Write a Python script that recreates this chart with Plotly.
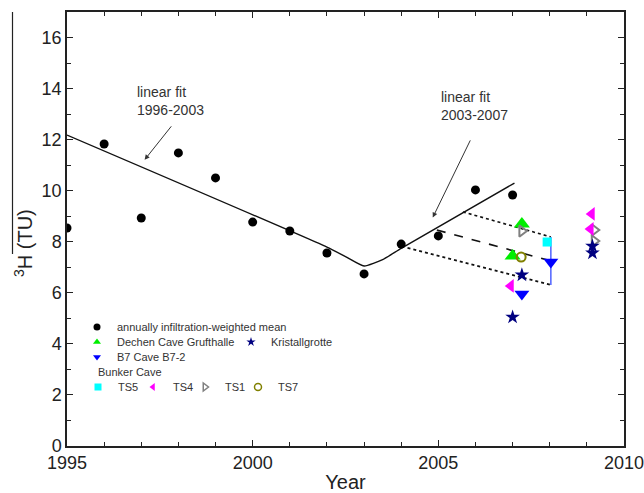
import plotly.graph_objects as go

# ---- data ----
mean_years = [1995, 1996, 1997, 1998, 1999, 2000, 2001, 2002, 2003, 2004, 2005, 2006, 2007]
mean_vals = [8.54, 11.83, 8.93, 11.48, 10.5, 8.77, 8.42, 7.56, 6.74, 7.91, 8.23, 10.03, 9.83]

fit_years = [1995, 2002, 2002.5, 2003, 2003.5, 2004, 2007.05]
fit_vals = [12.18, 7.79, 7.42, 7.05, 7.3, 7.74, 10.3]

upper_x = [2005.66, 2008.03]
upper_y = [9.17, 8.19]
mid_x = [2004.96, 2008.03]
mid_y = [8.46, 7.25]
lower_x = [2004.17, 2008.03]
lower_y = [7.76, 6.31]
range_x = [2008.03, 2008.03]
range_y = [8.19, 6.31]

dechen_x = [2007.25, 2007.0]
dechen_y = [8.7, 7.44]
kristall_x = [2007.25, 2007.0, 2009.15, 2009.15]
kristall_y = [6.7, 5.05, 7.83, 7.56]
b7_x = [2007.25, 2008.03]
b7_y = [5.95, 7.21]
ts5_x = [2007.93]
ts5_y = [7.99]
ts4_x = [2006.95, 2009.13, 2009.1]
ts4_y = [6.27, 9.09, 8.5]
ts1_x = [2007.25, 2009.2, 2009.2]
ts1_y = [8.42, 8.46, 8.03]
ts7_x = [2007.23]
ts7_y = [7.4]

FONT = "Liberation Sans, Arial, sans-serif"
TXT = "#222222"

fig = go.Figure()

# fit line
fig.add_trace(go.Scatter(x=fit_years, y=fit_vals, mode="lines", showlegend=False,
                         line=dict(color="#111111", width=1.4, shape="spline", smoothing=0.5)))
# projection lines
fig.add_trace(go.Scatter(x=upper_x, y=upper_y, mode="lines", showlegend=False,
                         line=dict(color="#111111", width=1.6, dash="dot")))
fig.add_trace(go.Scatter(x=mid_x, y=mid_y, mode="lines", showlegend=False,
                         line=dict(color="#111111", width=1.6, dash="dash")))
fig.add_trace(go.Scatter(x=lower_x, y=lower_y, mode="lines", showlegend=False,
                         line=dict(color="#111111", width=1.6, dash="dot")))
fig.add_trace(go.Scatter(x=range_x, y=range_y, mode="lines", showlegend=False,
                         line=dict(color="#5a6cff", width=1.6)))

def pts(x, y, symbol, color, size, lw=0):
    fig.add_trace(go.Scatter(x=x, y=y, mode="markers", showlegend=False,
                             marker=dict(symbol=symbol, color=color, size=size,
                                         line=dict(width=lw, color=color))))

pts(mean_years, mean_vals, "circle", "black", 9)
pts(dechen_x, dechen_y, "triangle-up", "#00ee00", 14)
pts(ts1_x, ts1_y, "triangle-right-open", "#808080", 10, 2)
pts(kristall_x, kristall_y, "star", "#000080", 11)
pts(b7_x, b7_y, "triangle-down", "#0000ff", 13)
pts(ts5_x, ts5_y, "square", "#00ffff", 9)
pts(ts4_x, ts4_y, "triangle-left", "#ff00ff", 12)
pts(ts7_x, ts7_y, "circle-open", "#808000", 9, 2)

# legend-only entries (small markers, no data)
def leg(name, symbol, color, legend, lw=0, size=7):
    fig.add_trace(go.Scatter(x=[None], y=[None], mode="markers", name=name, legend=legend,
                             marker=dict(symbol=symbol, color=color, size=size,
                                         line=dict(width=lw, color=color))))

leg("annually infiltration-weighted mean", "circle", "black", "legend")
leg("Dechen Cave Grufthalle", "triangle-up", "#00ee00", "legend2")
leg("Kristallgrotte", "star", "#000080", "legend3")
leg("B7 Cave B7-2", "triangle-down", "#0000ff", "legend4")
leg("TS5", "square", "#00ffff", "legend5")
leg("TS4", "triangle-left", "#ff00ff", "legend6")
leg("TS1", "triangle-right-open", "#808080", "legend7", 1.5)
leg("TS7", "circle-open", "#808000", "legend8", 1.5)

L, R, T, B = 67, 20, 12, 47
W, H = 644, 493
pw, ph = W - L - R, H - T - B

def px(xp):
    return (xp - L) / pw

def py(yp):
    return (H - B - yp) / ph

legfont = dict(family=FONT, size=11, color="#333333")
base = dict(bgcolor="rgba(0,0,0,0)", borderwidth=0, font=legfont, xanchor="left",
            yanchor="middle", itemclick=False, tracegroupgap=0)

fig.update_layout(
    width=W, height=H,
    margin=dict(l=L, r=R, t=T, b=B, autoexpand=False),
    paper_bgcolor="white", plot_bgcolor="white",
    font=dict(family=FONT, color=TXT),
    legend=dict(**base, x=px(77), y=py(327)),
    legend2=dict(**base, x=px(77), y=py(342)),
    legend3=dict(**base, x=px(231), y=py(342)),
    legend4=dict(**base, x=px(77), y=py(357)),
    legend5=dict(**base, x=px(78), y=py(387)),
    legend6=dict(**base, x=px(133), y=py(387)),
    legend7=dict(**base, x=px(185), y=py(387)),
    legend8=dict(**base, x=px(238), y=py(387)),
    xaxis=dict(range=[1995, 2010], showgrid=False, zeroline=False, automargin=False,
               tickmode="array", tickvals=[1995, 2000, 2005, 2010],
               ticks="inside", ticklen=6, tickwidth=1.2, tickcolor="#222",
               showline=True, linecolor="#222", linewidth=1.5, mirror="allticks",
               minor=dict(dtick=1, ticks="inside", ticklen=4, tickcolor="#222", tickwidth=1),
               tickfont=dict(size=18, color=TXT, family=FONT),
               ticklabeloverflow="allow",
               title=dict(text="Year", font=dict(size=20, color=TXT, family=FONT), standoff=12)),
    yaxis=dict(range=[0, 17], showgrid=False, zeroline=False, automargin=False,
               tickmode="array", tickvals=[0, 2, 4, 6, 8, 10, 12, 14, 16],
               ticks="inside", ticklen=6, tickwidth=1.2, tickcolor="#222",
               showline=True, linecolor="#222", linewidth=1.5, mirror="allticks",
               minor=dict(dtick=1, ticks="inside", ticklen=4, tickcolor="#222", tickwidth=1),
               tickfont=dict(size=18, color=TXT, family=FONT)),
    showlegend=True,
)

# "Bunker Cave" group label
fig.add_annotation(text="Bunker Cave", xref="paper", yref="paper", x=px(96), y=py(372),
                   showarrow=False, xanchor="left", yanchor="middle", font=legfont)

# y title with overline
fig.add_annotation(text="<sup>3</sup>H (TU)", xref="paper", yref="paper",
                   x=px(23), y=py(243), textangle=-90, showarrow=False,
                   font=dict(size=20, color=TXT, family=FONT),
                   xanchor="center", yanchor="middle")
fig.add_shape(type="line", xref="paper", yref="paper",
              x0=px(12.5), x1=px(12.5), y0=py(12), y1=py(254),
              line=dict(color="#222", width=1.2))

# fit annotations
ann_font = dict(size=14, color="#333333", family=FONT)
fig.add_annotation(text="linear fit<br>1996-2003", x=1996.83, y=13.5, xref="x", yref="y",
                   showarrow=False, align="left", xanchor="left", yanchor="middle", font=ann_font)
fig.add_annotation(text="linear fit<br>2003-2007", x=2005.03, y=13.3, xref="x", yref="y",
                   showarrow=False, align="left", xanchor="left", yanchor="middle", font=ann_font)
fig.add_annotation(x=1997.09, y=11.21, ax=1997.84, ay=12.58, xref="x", yref="y",
                   axref="x", ayref="y", text="", showarrow=True, arrowhead=2,
                   arrowsize=1, arrowwidth=1, arrowcolor="#333")
fig.add_annotation(x=2004.85, y=8.95, ax=2005.88, ay=12.03, xref="x", yref="y",
                   axref="x", ayref="y", text="", showarrow=True, arrowhead=2,
                   arrowsize=1, arrowwidth=1, arrowcolor="#333")

fig.write_html("out.html")
